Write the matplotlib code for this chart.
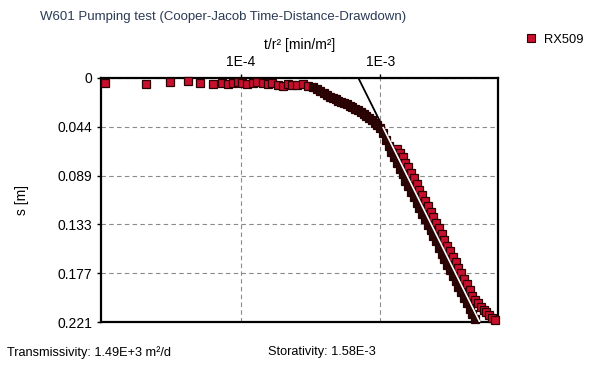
"""Cooper-Jacob time-distance-drawdown plot for W601 pumping test."""

import matplotlib.pyplot as plt
from matplotlib.lines import Line2D

plt.rcParams["font.family"] = ["Liberation Sans", "DejaVu Sans"]

# Observed drawdown RX509, t/r2 [min/m2] vs s [m]
# early, almost flat part
early_x = [
    1.07e-5, 2.1e-5, 3.1e-5, 4.2e-5, 5.1e-5, 6.3e-5, 7.4e-5, 8.1e-5, 8.8e-5, 9.5e-5,
    1.03e-4, 1.12e-4, 1.22e-4, 1.32e-4, 1.44e-4, 1.56e-4, 1.69e-4, 1.84e-4, 2.0e-4, 2.17e-4,
    2.35e-4, 2.55e-4, 2.82e-4, 3.06e-4,
]
early_s = [
    0.0045, 0.0054, 0.0036, 0.0027, 0.0045, 0.0054, 0.0045, 0.0054, 0.0045, 0.0036,
    0.0045, 0.0054, 0.0045, 0.0036, 0.0045, 0.0054, 0.0045, 0.0063, 0.0072, 0.0054,
    0.0063, 0.0063, 0.0054, 0.0072,
]

# bend and lower (dark) edge of the steep band
dark_x = [
    3.32e-4, 3.55e-4, 3.73e-4, 3.98e-4, 4.17e-4, 4.37e-4, 4.57e-4, 4.79e-4, 5.01e-4, 5.25e-4,
    5.50e-4, 5.75e-4, 6.03e-4, 6.31e-4, 6.61e-4, 6.92e-4, 7.24e-4, 7.59e-4, 7.94e-4, 8.32e-4,
    8.71e-4, 9.12e-4, 9.55e-4, 1.0e-3,
    1.047e-3, 1.096e-3, 1.148e-3, 1.202e-3, 1.259e-3, 1.318e-3, 1.380e-3, 1.445e-3, 1.514e-3,
    1.585e-3, 1.660e-3, 1.738e-3, 1.820e-3, 1.905e-3, 1.995e-3, 2.089e-3, 2.188e-3, 2.291e-3,
    2.399e-3, 2.512e-3, 2.630e-3, 2.754e-3, 2.884e-3, 3.020e-3, 3.162e-3, 3.311e-3, 3.467e-3,
    3.631e-3, 3.802e-3, 3.981e-3, 4.169e-3, 4.365e-3, 4.571e-3, 4.786e-3,
]
dark_s = [
    0.0081, 0.0099, 0.0117, 0.0136, 0.0154, 0.0168, 0.0180, 0.0192, 0.0204, 0.0216,
    0.0228, 0.0240, 0.0252, 0.0265, 0.0279, 0.0294, 0.0310, 0.0327, 0.0345, 0.0364,
    0.0384, 0.0405, 0.0427, 0.0450,
    0.050, 0.056, 0.062, 0.067, 0.072, 0.077, 0.082, 0.087, 0.093,
    0.098, 0.103, 0.108, 0.113, 0.118, 0.123, 0.128, 0.133, 0.138,
    0.143, 0.148, 0.154, 0.159, 0.164, 0.169, 0.174, 0.179, 0.184,
    0.189, 0.194, 0.199, 0.204, 0.209, 0.214, 0.218,
]

# upper (red) edge of the steep band and the tail
red_x = [
    1.318e-3, 1.380e-3, 1.445e-3, 1.514e-3, 1.585e-3, 1.660e-3, 1.738e-3, 1.820e-3, 1.905e-3,
    1.995e-3, 2.089e-3, 2.188e-3, 2.291e-3, 2.399e-3, 2.512e-3, 2.630e-3, 2.754e-3, 2.884e-3,
    3.020e-3, 3.162e-3, 3.311e-3, 3.467e-3, 3.631e-3, 3.802e-3, 3.981e-3, 4.169e-3, 4.365e-3,
    4.571e-3, 4.786e-3, 5.012e-3, 5.248e-3, 5.495e-3, 5.754e-3, 6.026e-3, 6.310e-3, 6.607e-3,
]
red_s = [
    0.064, 0.068, 0.072, 0.077, 0.081, 0.086, 0.091, 0.096, 0.101,
    0.106, 0.111, 0.116, 0.121, 0.126, 0.131, 0.136, 0.141, 0.147,
    0.152, 0.157, 0.162, 0.167, 0.172, 0.177, 0.182, 0.187, 0.192,
    0.197, 0.201, 0.204, 0.207, 0.210, 0.212, 0.215, 0.217, 0.219,
]

# Cooper-Jacob straight line fit
fit_x = [6.97e-4, 5.25e-3]
fit_s = [0.0, 0.2228]
fit_inner_x = [1.05e-3, 5.2e-3]
fit_inner_s = [0.045, 0.2219]

y_ticks = [0.0, 0.0442, 0.0884, 0.1326, 0.1768, 0.221]
y_labels = ["0", "0.044", "0.089", "0.133", "0.177", "0.221"]
x_ticks = [1e-4, 1e-3]
x_labels = ["1E-4", "1E-3"]

red_face = "#c8102e"
dark_face = "#2a0606"
edge_col = "#2a0000"

fig = plt.figure(figsize=(5.92, 3.73), dpi=100)
ax = fig.add_axes([0.1706, 0.1367, 0.6706, 0.6542])

ax.plot(fit_x, fit_s, color="black", linewidth=1.3, zorder=2)
marker_kw = dict(linestyle="none", marker="s", markersize=5.5,
                 markeredgecolor=edge_col, markeredgewidth=0.9, clip_on=False)
ax.plot(early_x, early_s, markerfacecolor=red_face, zorder=3, **marker_kw)
ax.plot(red_x, red_s, markerfacecolor=red_face, zorder=3, **marker_kw)
ax.plot(dark_x, dark_s, markerfacecolor=dark_face, zorder=3.1, **marker_kw)
ax.plot(fit_inner_x, fit_inner_s, color="white", linewidth=1.2, zorder=4)

ax.set_xscale("log")
ax.set_xlim(1e-5, 6.97e-3)
ax.set_ylim(0.221, 0.0)

ax.xaxis.tick_top()
ax.xaxis.set_label_position("top")
ax.set_xticks(x_ticks)
ax.set_xticklabels(x_labels)
ax.xaxis.set_minor_locator(plt.NullLocator())
ax.set_yticks(y_ticks)
ax.set_yticklabels(y_labels)

ax.tick_params(axis="both", labelsize=10, length=3, width=1, colors="black")
ax.set_xlabel("t/r² [min/m²]", fontsize=10, labelpad=4)
ax.set_ylabel("s [m]", fontsize=10, labelpad=20)

ax.grid(True, color="#8a8a8a", linestyle=(0, (4, 3)), linewidth=0.8)
for side in ax.spines.values():
    side.set_linewidth(1.6)
    side.set_color("black")

fig.text(0.068, 0.955, "W601 Pumping test (Cooper-Jacob Time-Distance-Drawdown)",
         fontsize=9.5, color="#2b3a55", va="center", ha="left")

handle = Line2D([], [], linestyle="none", marker="s", markersize=6,
                markerfacecolor=red_face, markeredgecolor=edge_col, markeredgewidth=0.8)
fig.legend([handle], ["RX509"], loc="center left", bbox_to_anchor=(0.868, 0.893),
           frameon=False, fontsize=9.3, handlelength=0.8, handletextpad=0.6)

fig.text(0.012, 0.056, "Transmissivity: 1.49E+3 m²/d", fontsize=9.2, va="center", ha="left")
fig.text(0.452, 0.056, "Storativity: 1.58E-3", fontsize=9.2, va="center", ha="left")

plt.savefig("out.png", dpi=100)
